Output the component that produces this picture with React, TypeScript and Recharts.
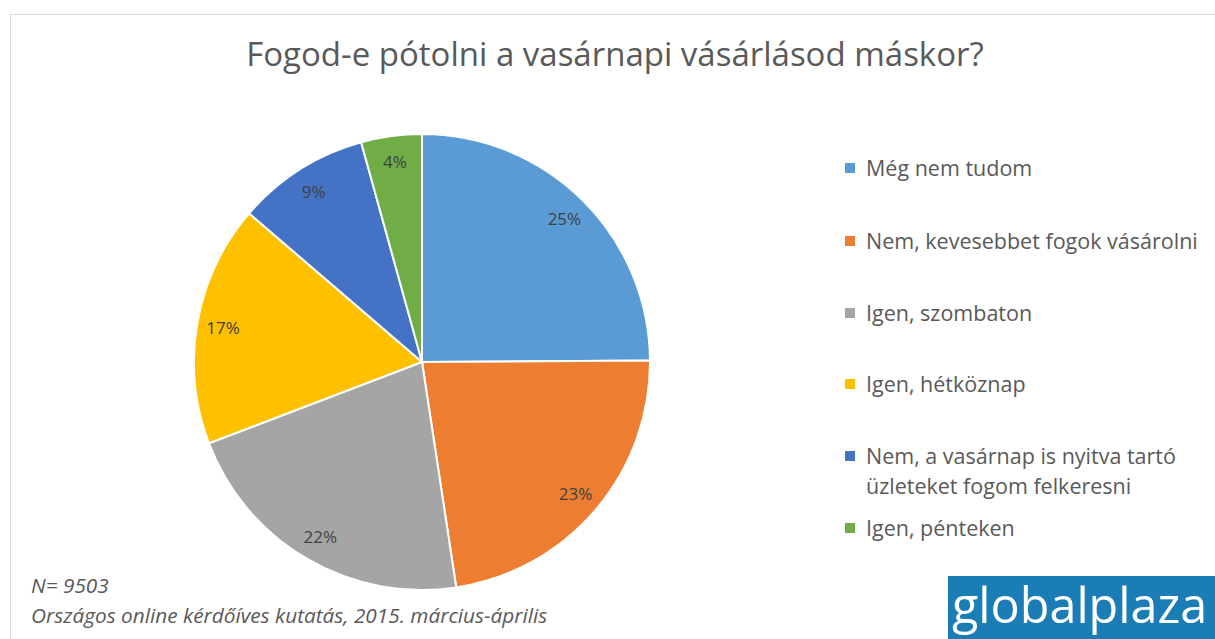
import React from "react";
import { PieChart, Pie, Cell, Legend } from "recharts";

// answers, clockwise from 12 o'clock
const answers = [
  "Még nem tudom",
  "Nem, kevesebbet fogok vásárolni",
  "Igen, szombaton",
  "Igen, hétköznap",
  "Nem, a vasárnap is nyitva tartó üzleteket fogom felkeresni",
  "Igen, pénteken",
];
const shares = [24.9, 22.7, 21.6, 17.1, 9.4, 4.3];
const colors = ["#5b9bd5", "#ed7d31", "#a5a5a5", "#ffc000", "#4472c4", "#70ad47"];

const data = answers.map((name, i) => ({ name, value: shares[i] }));

const FONT = "'Open Sans', 'Noto Sans', sans-serif";
const RAD = Math.PI / 180;

const renderLabel = (props: any) => {
  const { cx, cy, midAngle, value } = props;
  const r = 202;
  const x = cx + r * Math.cos(-midAngle * RAD);
  const y = cy + r * Math.sin(-midAngle * RAD);
  return (
    <text x={x} y={y} fill="#404040" fontSize={17} fontFamily={FONT} textAnchor="middle" dominantBaseline="central">
      {Math.round(value)}%
    </text>
  );
};

const legendRows = [168, 241, 313, 384, 471, 528];

const renderLegend = () => (
  <div style={{ position: "relative", width: 370, height: 639 }}>
    {data.map((d, i) => (
      <div
        key={d.name}
        style={{
          position: "absolute",
          left: 0,
          top: legendRows[i] - (i === 4 ? 30 : 15),
          display: "flex",
          alignItems: "flex-start",
          fontFamily: FONT,
          fontSize: 21.5,
          lineHeight: "30px",
          color: "#595959",
          width: 370,
        }}
      >
        <span
          style={{
            display: "inline-block",
            width: 10,
            height: 10,
            background: colors[i],
            marginTop: 10,
            marginRight: 11,
            flex: "none",
          }}
        />
        <span style={{ width: 340 }}>{d.name}</span>
      </div>
    ))}
  </div>
);

export default function App() {
  return (
    <div style={{ position: "absolute", left: 0, top: 0, width: 1215, height: 639, background: "#fff", overflow: "hidden" }}>
      <div
        style={{
          position: "absolute",
          left: 10,
          top: 14,
          width: 1220,
          height: 640,
          border: "1px solid #d9d9d9",
        }}
      />
      <div
        style={{
          position: "absolute",
          left: 0,
          width: 1230,
          top: 34,
          textAlign: "center",
          fontFamily: FONT,
          fontSize: 33,
          lineHeight: "40px",
          color: "#595959",
        }}
      >
        Fogod-e pótolni a vasárnapi vásárlásod máskor?
      </div>
      <PieChart width={1215} height={639} style={{ position: "absolute", left: 0, top: 0 }}>
        <Pie
          data={data}
          dataKey="value"
          nameKey="name"
          cx={417}
          cy={357}
          outerRadius={228}
          startAngle={90}
          endAngle={-270}
          stroke="#fff"
          strokeWidth={2}
          label={renderLabel}
          labelLine={false}
          isAnimationActive={false}
        >
          {data.map((d, i) => (
            <Cell key={d.name} fill={colors[i]} />
          ))}
        </Pie>
        <Legend
          content={renderLegend}
          layout="vertical"
          wrapperStyle={{ position: "absolute", left: 845, top: 0, width: 370, height: 639 }}
        />
      </PieChart>
      <div
        style={{
          position: "absolute",
          left: 31,
          top: 570,
          fontFamily: FONT,
          fontStyle: "italic",
          fontSize: 20.8,
          lineHeight: "30px",
          color: "#595959",
        }}
      >
        <div>N= 9503</div>
        <div>Országos online kérdőíves kutatás, 2015. március-április</div>
      </div>
      <div
        style={{
          position: "absolute",
          left: 948,
          top: 576,
          width: 270,
          height: 70,
          background: "#1b7db6",
          color: "#fff",
          fontFamily: FONT,
          fontSize: 48.5,
          lineHeight: "56px",
          paddingLeft: 4,
          boxSizing: "border-box",
        }}
      >
        globalplaza
      </div>
    </div>
  );
}
